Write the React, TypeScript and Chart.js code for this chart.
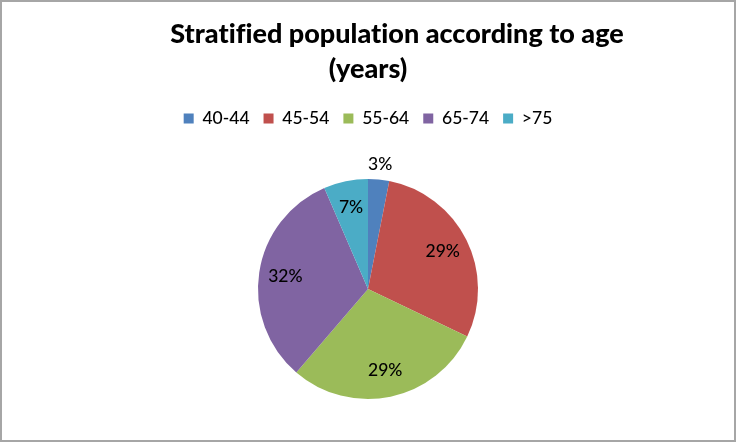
import React, { useEffect, useRef } from "react";
import { Chart, registerables } from "chart.js";

Chart.register(...registerables);

// ---- data ----
const categories = ["40-44", "45-54", "55-64", "65-74", ">75"];
const shares = [3.1, 29.0, 29.2, 32.2, 6.5];
const sliceColors = ["#4F81BD", "#C0504D", "#9BBB59", "#8064A2", "#4BACC6"];
const titleLines = ["Stratified population according to age", "(years)"];

const FONT = "Lato, 'Open Sans', sans-serif";

const framePlugin = {
  id: "frame",
  beforeDraw(chart: any) {
    const { ctx, width, height } = chart;
    ctx.save();
    ctx.fillStyle = "#ffffff";
    ctx.fillRect(0, 0, width, height);
    ctx.restore();
  },
  afterDraw(chart: any) {
    const { ctx, width, height } = chart;
    ctx.save();
    ctx.strokeStyle = "#a6a6a6";
    ctx.lineWidth = 2;
    ctx.strokeRect(1, 1, width - 2, height - 2);
    ctx.restore();
  },
};

const titlePlugin = {
  id: "twoLineTitle",
  afterDraw(chart: any) {
    const ctx = chart.ctx;
    ctx.save();
    ctx.font = `900 27px ${FONT}`;
    ctx.fillStyle = "#000000";
    ctx.textAlign = "center";
    ctx.textBaseline = "alphabetic";
    (ctx as any).letterSpacing = "0.01px";
    ctx.fillText(titleLines[0], 397, 43);
    ctx.fillText(titleLines[1], 368, 78);
    ctx.restore();
  },
};

const pctLabelPlugin = {
  id: "pctLabels",
  afterDatasetsDraw(chart: any) {
    const ctx = chart.ctx;
    const meta = chart.getDatasetMeta(0);
    const values: number[] = chart.data.datasets[0].data;
    const total = values.reduce((a, b) => a + b, 0);
    ctx.save();
    ctx.font = `500 17.5px ${FONT}`;
    ctx.fillStyle = "#000000";
    ctx.textAlign = "center";
    ctx.textBaseline = "middle";
    meta.data.forEach((arc: any, i: number) => {
      const p = arc.getProps(["x", "y", "startAngle", "endAngle", "outerRadius"], true);
      const mid = (p.startAngle + p.endAngle) / 2;
      const pct = Math.round((values[i] / total) * 100);
      const f = pct < 5 ? 1.14 : 0.76;
      const lx = p.x + Math.cos(mid) * p.outerRadius * f;
      const ly = p.y + Math.sin(mid) * p.outerRadius * f;
      ctx.fillText(pct + "%", lx, ly);
    });
    ctx.restore();
  },
};

export default function App() {
  const canvasRef = useRef<HTMLCanvasElement | null>(null);

  useEffect(() => {
    if (!canvasRef.current) return;
    const chart = new Chart(canvasRef.current, {
      type: "pie",
      data: {
        labels: categories,
        datasets: [
          {
            data: shares,
            backgroundColor: sliceColors,
            borderWidth: 0,
            radius: 110,
          } as any,
        ],
      },
      options: {
        responsive: false,
        animation: false,
        layout: { padding: { top: 95.75, bottom: 1.25, left: 0, right: 0 } },
        plugins: {
          title: { display: false },
          tooltip: { enabled: false },
          legend: {
            display: true,
            position: "top",
            labels: {
              boxWidth: 10,
              boxHeight: 10,
              padding: 14,
              color: "#000000",
              font: { family: FONT, size: 17.5, weight: "500" },
            },
          },
        },
      },
      plugins: [framePlugin, titlePlugin, pctLabelPlugin],
    });
    return () => chart.destroy();
  }, []);

  return (
    <div style={{ position: "absolute", left: 0, top: 0, width: 736, height: 442 }}>
      <canvas ref={canvasRef} width={736} height={442} style={{ width: 736, height: 442, display: "block" }} />
    </div>
  );
}
